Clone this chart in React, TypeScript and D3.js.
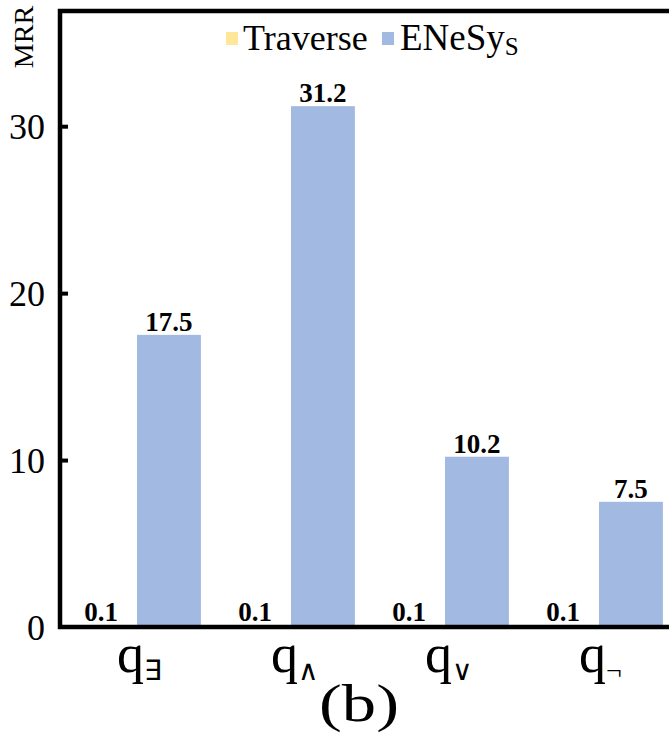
import React, { useRef, useEffect } from 'react';
import * as d3 from 'd3';

const categories = ['∃', '∧', '∨', '¬'];
const seriesNames = ['Traverse', 'ENeSyS'];
const traverse = [0.1, 0.1, 0.1, 0.1];
const enesys = [17.5, 31.2, 10.2, 7.5];
const yTicks = [0, 10, 20, 30];
const colors = ['#ffe699', '#a2b9e1'];

function App() {
  const ref = useRef<SVGSVGElement>(null);

  useEffect(() => {
    if (!ref.current) return;
    const svg = d3.select(ref.current);
    svg.selectAll('*').remove();

    const left = 60;
    const right = 676;
    const top = 11;
    const bottom = 627;
    const font = '"Liberation Serif", "Times New Roman", serif';

    const x = d3.scaleBand<string>().domain(categories).range([left, right]).paddingInner(0.17).paddingOuter(0.085);
    const x1 = d3.scaleBand<string>().domain(seriesNames).range([0, x.bandwidth()]);
    const y = d3.scaleLinear().domain([0, 36.9]).range([bottom, top]);

    const data = categories.map((c, i) => ({ c, vals: [traverse[i], enesys[i]] }));

    const groups = svg
      .append('g')
      .selectAll('g')
      .data(data)
      .join('g')
      .attr('transform', (d) => `translate(${x(d.c)},0)`);

    groups
      .selectAll('rect')
      .data((d) => d.vals.map((v, j) => ({ v, j })))
      .join('rect')
      .attr('x', (d) => x1(seriesNames[d.j])!)
      .attr('width', x1.bandwidth())
      .attr('y', (d) => y(d.v))
      .attr('height', (d) => y(0) - y(d.v))
      .attr('fill', (d) => colors[d.j]);

    groups
      .selectAll('text.val')
      .data((d) => d.vals.map((v, j) => ({ v, j })))
      .join('text')
      .attr('class', 'val')
      .attr('x', (d) => x1(seriesNames[d.j])! + x1.bandwidth() / 2 + (d.j === 0 ? -4 : 0))
      .attr('y', (d) => y(d.v) - 4)
      .attr('text-anchor', 'middle')
      .attr('font-family', font)
      .attr('font-weight', 'bold')
      .attr('font-size', 27)
      .text((d) => d.v.toFixed(1));

    // frame
    svg
      .append('path')
      .attr('d', `M${right + 10},${top} H${left} V${bottom} H${right + 10}`)
      .attr('fill', 'none')
      .attr('stroke', '#000')
      .attr('stroke-width', 4.5);

    // y axis
    const yAxis = svg
      .append('g')
      .attr('transform', `translate(${left},0)`)
      .call(
        d3
          .axisRight(y)
          .tickValues(yTicks)
          .tickSize(8)
          .tickFormat((d) => String(d))
      );
    yAxis.select('.domain').remove();
    yAxis.selectAll('line').attr('stroke', '#000').attr('stroke-width', 4).filter((d) => d === 0).remove();
    yAxis
      .selectAll('text')
      .attr('x', -15)
      .attr('text-anchor', 'end')
      .attr('font-family', font)
      .attr('font-size', 36)
      .attr('fill', '#000')
      .attr('dy', '0.34em');

    svg
      .append('text')
      .attr('transform', 'translate(33,37) rotate(-90)')
      .attr('text-anchor', 'middle')
      .attr('font-family', font)
      .attr('font-size', 28)
      .text('MRR');

    // x labels
    const xl = svg
      .append('g')
      .selectAll('text')
      .data(categories)
      .join('text')
      .attr('x', (d) => x(d)! + x.bandwidth() / 2 - 20)
      .attr('y', 672)
      .attr('font-family', font)
      .attr('font-size', 54);
    xl.append('tspan').text('q');
    xl.append('tspan').attr('font-size', 28).attr('dy', 8).text((d) => d);

    svg
      .append('text')
      .attr('x', 359)
      .attr('y', 721)
      .attr('text-anchor', 'middle')
      .attr('font-family', font)
      .attr('font-size', 52)
      .attr('textLength', 80)
      .attr('lengthAdjust', 'spacingAndGlyphs')
      .text('(b)');

    // legend
    const lg = svg.append('g');
    lg.append('rect').attr('x', 226).attr('y', 32).attr('width', 12).attr('height', 13).attr('fill', colors[0]);
    lg.append('text').attr('x', 243).attr('y', 50).attr('font-family', font).attr('font-size', 36).text('Traverse');
    lg.append('rect').attr('x', 382).attr('y', 32).attr('width', 12).attr('height', 13).attr('fill', colors[1]);
    const t2 = lg.append('text').attr('x', 400).attr('y', 50).attr('font-family', font).attr('font-size', 37);
    t2.append('tspan').text('ENeSy');
    t2.append('tspan').attr('font-size', 25).attr('dy', 5).text('S');
  }, []);

  return <svg ref={ref} width={669} height={735} style={{ position: 'absolute', left: 0, top: 0 }} />;
}

export default App;
